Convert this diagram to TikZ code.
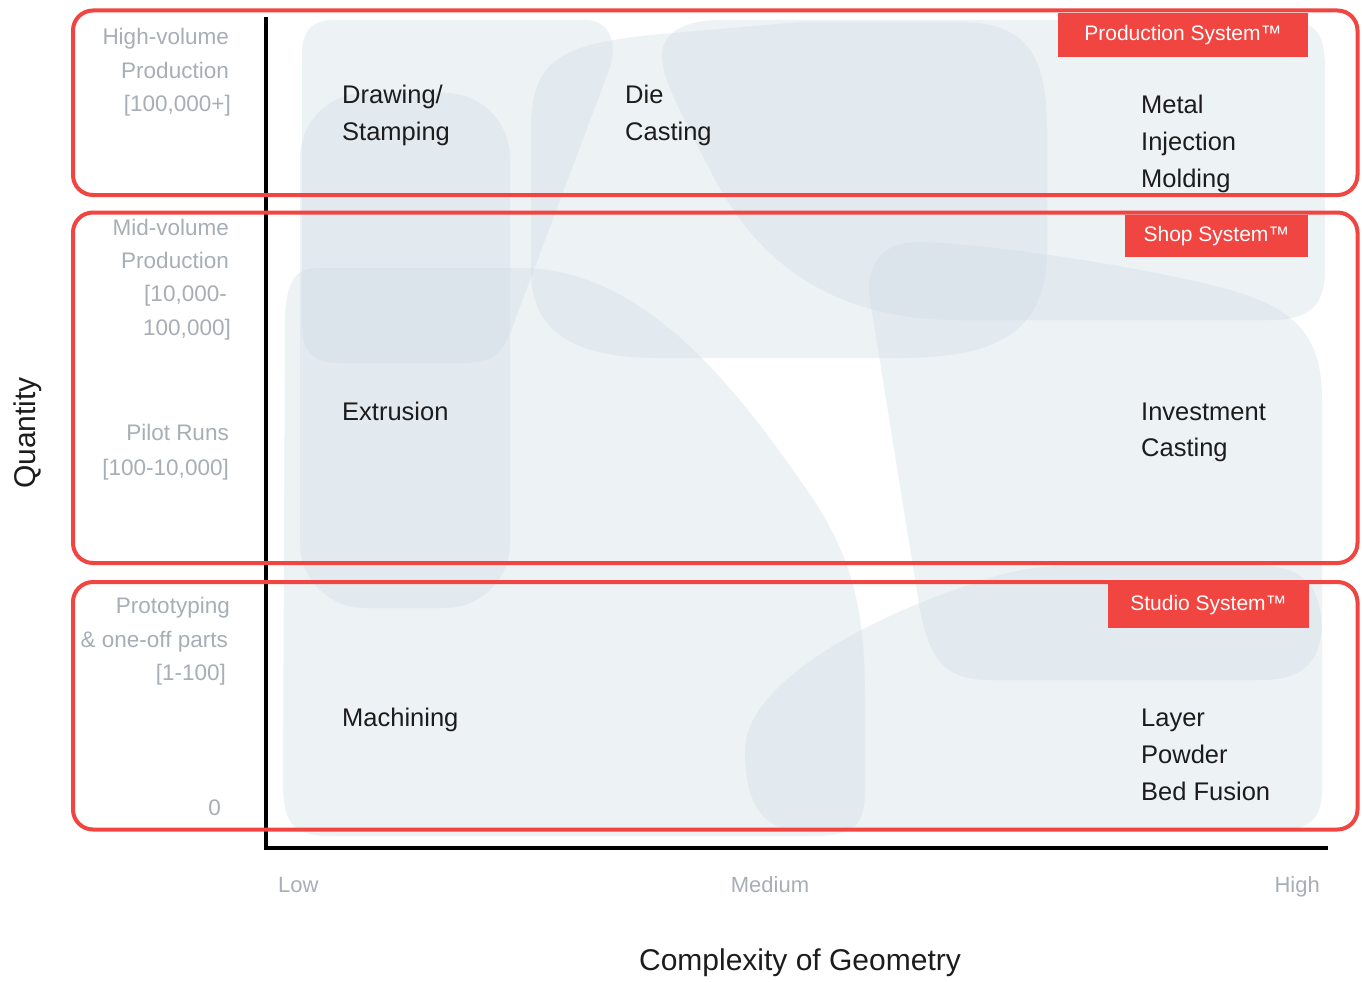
\documentclass[tikz,border=0pt]{standalone}
\usepackage{fontspec}
\setmainfont{Liberation Sans}
\definecolor{boxred}{RGB}{240,69,64}
\definecolor{blobc}{RGB}{206,218,229}
\definecolor{greytxt}{RGB}{168,174,181}
\definecolor{darktxt}{RGB}{28,28,28}
\begin{document}
\begin{tikzpicture}[x=1pt,y=-1pt,
  blob/.style={fill=blobc,fill opacity=0.35},
  redbox/.style={draw=boxred,line width=4pt,rounded corners=20pt},
  syslabel/.style={fill=boxred,text=white,inner sep=0pt,font=\fontsize{21}{24}\selectfont},
  proc/.style={anchor=base west,inner sep=0pt,text=darktxt,font=\fontsize{25.5}{30}\selectfont},
  qty/.style={anchor=base east,inner sep=0pt,text=greytxt,font=\fontsize{22.5}{27}\selectfont},
  axlab/.style={inner sep=0pt,text=greytxt,font=\fontsize{22}{26}\selectfont},
  axtitle/.style={inner sep=0pt,text=darktxt,font=\fontsize{30}{34}\selectfont},
  axisline/.style={draw=black,line width=3.2pt}]
\useasboundingbox (0,0) rectangle (1362,982);
\fill[white] (0,0) rectangle (1362,982);

% blobs
% Drawing / Stamping
\fill[blob] (335,20) -- (585,20) .. controls (608,20) and (618,40) .. (610,67) -- (515,320) .. controls (505,350) and (495,363) .. (465,363) -- (340,363) .. controls (310,363) and (302,350) .. (302,320) -- (302,55) .. controls (302,30) and (312,20) .. (335,20) -- cycle;
% Extrusion
\fill[blob,rounded corners=65pt] (300,93) rectangle (510,608);
% Machining
\fill[blob] (320,268) -- (520,268) .. controls (640,268) and (730,380) .. (800,480) .. controls (850,550) and (865,600) .. (865,700) -- (865,790) .. controls (865,830) and (850,836) .. (810,836) -- (330,836) .. controls (290,836) and (283,820) .. (283,780) -- (285,320) .. controls (286,280) and (295,268) .. (320,268) -- cycle;
% Die Casting
\fill[blob] (531,130) .. controls (531,60) and (560,45) .. (650,35) -- (800,22) -- (960,22) .. controls (1030,22) and (1047,60) .. (1047,130) -- (1047,250) .. controls (1047,330) and (1000,358) .. (900,358) -- (660,358) .. controls (570,358) and (531,330) .. (531,270) -- cycle;
% Metal Injection Molding
\fill[blob] (720,20) -- (1280,20) .. controls (1318,20) and (1325,35) .. (1325,70) -- (1325,270) .. controls (1325,305) and (1310,320) .. (1270,320) -- (960,320) .. controls (840,320) and (760,270) .. (710,170) .. controls (680,110) and (662,80) .. (662,55) .. controls (662,30) and (690,20) .. (720,20) -- cycle;
% Investment Casting
\fill[blob] (920,242) .. controls (1000,245) and (1150,268) .. (1230,290) .. controls (1300,310) and (1322,340) .. (1322,400) -- (1322,620) .. controls (1322,665) and (1300,680) .. (1260,680) -- (990,680) .. controls (945,680) and (930,660) .. (920,610) -- (870,300) .. controls (865,260) and (885,242) .. (920,242) -- cycle;
% Layer Powder Bed Fusion
\fill[blob] (1260,565) .. controls (1310,568) and (1322,590) .. (1322,640) -- (1322,790) .. controls (1322,822) and (1305,830) .. (1280,830) -- (800,830) .. controls (760,830) and (745,800) .. (745,750) .. controls (745,690) and (850,620) .. (1000,575) .. controls (1050,562) and (1100,562) .. (1260,565) -- cycle;

% axes
\coordinate (ytop) at (266,17);
\coordinate (xend) at (1328,848);
\draw[axisline] (ytop) |- (xend);

% red boxes
\draw[redbox] (73,10.5) rectangle (1357.5,195);
\draw[redbox] (73,212.5) rectangle (1357.5,563);
\draw[redbox] (73,582) rectangle (1357.5,829.5);

% system labels
\node[syslabel,minimum width=250pt,minimum height=44pt] (prodsys) at (1183,35) {Production System™};
\node[syslabel,minimum width=183pt,minimum height=42pt] (shopsys) at (1216.5,236) {Shop System™};
\node[syslabel,minimum width=201pt,minimum height=45pt] (studsys) at (1208.5,605.5) {Studio System™};

% process labels
\node[proc] (ds1) at (342,103) {Drawing/};
\node[proc] (ds2) at (342,140) {Stamping};
\node[proc] (dc1) at (625,103) {Die};
\node[proc] (dc2) at (625,140) {Casting};
\node[proc] (mim1) at (1141,113) {Metal};
\node[proc] (mim2) at (1141,150) {Injection};
\node[proc] (mim3) at (1141,187) {Molding};
\node[proc] (ext) at (342,420) {Extrusion};
\node[proc] (ic1) at (1141,420) {Investment};
\node[proc] (ic2) at (1141,456) {Casting};
\node[proc] (mach) at (342,726) {Machining};
\node[proc] (lp1) at (1141,726) {Layer};
\node[proc] (lp2) at (1141,763) {Powder};
\node[proc] (lp3) at (1141,800) {Bed Fusion};

% quantity labels
\node[qty] (hv1) at (229,45) {High-volume};
\node[qty] (hv2) at (229,78) {Production};
\node[qty] (hv3) at (231,111) {[100,000+]};
\node[qty] (mv1) at (229,235) {Mid-volume};
\node[qty] (mv2) at (229,268) {Production};
\node[qty] (mv3) at (227,301) {[10,000-};
\node[qty] (mv4) at (231,335) {100,000]};
\node[qty] (pr1) at (229,440) {Pilot Runs};
\node[qty] (pr2) at (229,475) {[100-10,000]};
\node[qty] (pt1) at (230,613) {Prototyping};
\node[qty] (pt2) at (228,647) {\& one-off parts};
\node[qty] (pt3) at (226,680) {[1-100]};
\node[qty] (zero) at (221,815) {0};

% axis labels
\node[axlab,anchor=base west] (low) at (278,892) {Low};
\node[axlab,anchor=base] (med) at (770,892) {Medium};
\node[axlab,anchor=base east] (high) at (1320,892) {High};
\node[axtitle,anchor=base] (xtitle) at (800,970) {Complexity of Geometry};
\node[axtitle,anchor=base,rotate=90] (ytitle) at (35,433) {Quantity};
\end{tikzpicture}
\end{document}
